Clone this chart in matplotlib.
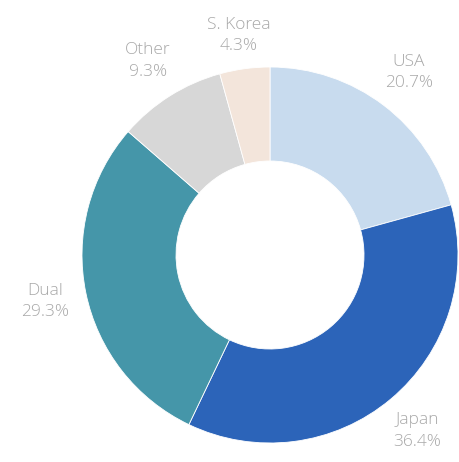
import matplotlib.pyplot as plt

# share of units by origin
labels = ["USA", "Japan", "Dual", "Other", "S. Korea"]
shares = [20.7, 36.4, 29.3, 9.3, 4.3]
colors = ["#c8dbee", "#2c64b9", "#4596a9", "#d7d7d7", "#f3e5db"]

fig = plt.figure(figsize=(4.59, 4.62), dpi=100)
# place the donut: centre ~ (270, 255) px, radius ~188 px
R = 188
ax = fig.add_axes([(270 - R) / 459, (462 - 255 - R) / 462, 2 * R / 459, 2 * R / 462])

texts = [f"{l}\n{v:.1f}%" for l, v in zip(labels, shares)]
wedges, txts = ax.pie(
    shares, labels=texts, colors=colors, startangle=90, counterclock=False,
    radius=1.0, labeldistance=1.22,
    wedgeprops=dict(width=0.5, edgecolor="white", linewidth=0.6),
    textprops=dict(color="#a8a8a8", fontsize=12.5, family="Open Sans",
                   fontweight="light", ha="center", va="center", linespacing=1.45),
)
for t in txts:
    t.set_horizontalalignment("center")
    t.set_clip_on(False)
# S. Korea label sits a little lower in the original
x, y = txts[4].get_position()
txts[4].set_position((x, y - 0.04))

ax.set_xlim(-1, 1)
ax.set_ylim(-1, 1)
ax.set_aspect("equal")
ax.axis("off")

fig.savefig("out.png", dpi=100)
